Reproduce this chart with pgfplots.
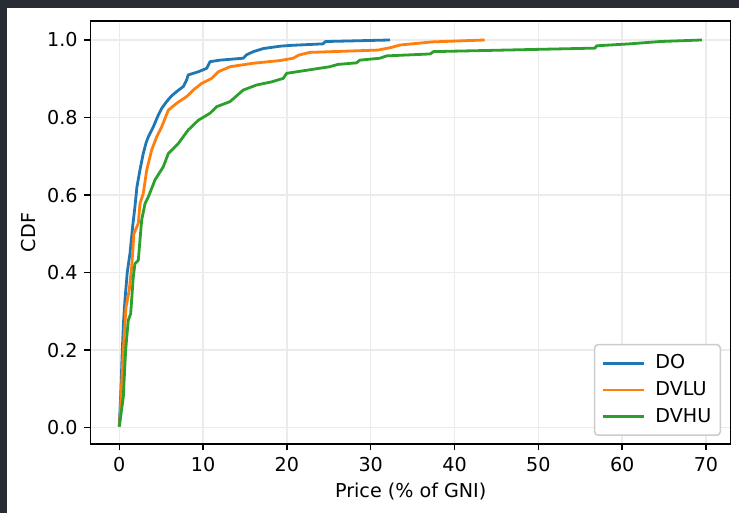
\documentclass[border=0pt]{standalone}
\usepackage{fontspec}
\setmainfont{DejaVu Sans}
\usepackage{pgfplots}
\pgfplotsset{compat=1.18}
\definecolor{bgdark}{RGB}{40,44,52}
\definecolor{tabblue}{HTML}{1F77B4}
\definecolor{taborange}{HTML}{FF7F0E}
\definecolor{tabgreen}{HTML}{2CA02C}
\definecolor{gridc}{HTML}{EBEBEB}
\definecolor{legedge}{HTML}{CCCCCC}

\pgfplotstableread{
x y
0.0 0.003
0.2 0.10
0.36 0.20
0.5 0.27
0.68 0.33
0.95 0.40
1.28 0.45
1.6 0.52
1.87 0.57
2.1 0.62
2.47 0.665
2.86 0.707
3.2 0.735
3.46 0.75
4.06 0.776
4.65 0.806
5.1 0.825
5.65 0.841
6.2 0.855
6.85 0.867
7.64 0.880
8.0 0.895
8.23 0.910
9.43 0.918
10.43 0.927
10.82 0.944
12.0 0.948
14.8 0.953
15.2 0.962
16.0 0.970
17.2 0.978
19.2 0.984
20.4 0.986
24.3 0.990
24.6 0.996
32.3 1.0
}\dataDO

\pgfplotstableread{
x y
0.0 0.004
0.08 0.019
0.3 0.12
0.48 0.2
0.8 0.311
1.19 0.355
1.48 0.415
1.75 0.501
2.27 0.527
2.47 0.578
2.86 0.604
3.27 0.664
3.86 0.716
4.46 0.75
5.06 0.776
5.5 0.80
5.85 0.819
6.85 0.837
8.04 0.854
8.83 0.871
9.83 0.888
11.02 0.901
11.81 0.918
13.21 0.931
15.99 0.940
19.2 0.947
20.76 0.953
21.4 0.961
22.75 0.968
30.9 0.974
32.5 0.981
33.5 0.987
37.3 0.995
43.6 1.0
}\dataDVLU

\pgfplotstableread{
x y
0.0 0.003
0.48 0.079
0.76 0.2
1.07 0.277
1.36 0.294
1.67 0.389
1.87 0.423
2.27 0.432
2.47 0.484
2.67 0.535
3.07 0.578
3.46 0.595
4.26 0.639
5.25 0.673
5.85 0.707
7.04 0.733
8.23 0.768
9.43 0.793
10.82 0.811
11.62 0.828
13.21 0.841
14.8 0.871
16.4 0.884
18.18 0.892
19.57 0.901
19.97 0.914
25.1 0.931
26.1 0.937
28.3 0.941
28.7 0.948
31.1 0.953
31.9 0.959
37.1 0.964
37.5 0.970
56.76 0.979
56.96 0.985
60.9 0.990
64.5 0.996
69.5 1.0
}\dataDVHU

\begin{document}
\fontsize{19.2pt}{23pt}\selectfont
\begin{tikzpicture}[x=1bp,y=1bp]
\fill[bgdark] (0,0) rectangle (739,513);
\fill[white] (7,0) rectangle (739,505);
\begin{axis}[
  at={(90.7bp,69bp)}, anchor=south west,
  width=640bp, height=423bp, scale only axis,
  xmin=-3.41, xmax=72.95, ymin=-0.042, ymax=1.049,
  xtick={0,10,20,30,40,50,60,70},
  ytick={0,0.2,0.4,0.6,0.8,1.0},
  yticklabel style={/pgf/number format/.cd, fixed, fixed zerofill, precision=1},
  /pgf/number format/assume math mode=true,
  grid=major,
  grid style={line width=1.5bp, color=gridc},
  axis line style={line width=1.5bp, black},
  tick style={line width=1.5bp, black},
  tick align=outside, tick pos=left,
  major tick length=6.5bp,
  xlabel={Price (\% of GNI)}, ylabel={CDF},
  xlabel style={yshift=2bp},
  ylabel style={yshift=-2bp},
  legend cell align=left,
  legend style={at={(1,0)}, anchor=south east, xshift=-9.7bp, yshift=8bp,
    draw=legedge, line width=1.5bp, rounded corners=3.5bp, fill=white,
    inner xsep=7bp, inner ysep=8bp, row sep=6bp},
  legend image code/.code={\draw[line width=2.8bp,#1] (0bp,0bp) -- (41bp,0bp); \path (49bp,0bp);},
  every axis plot/.append style={line width=2.8bp, line join=round},
]
\addplot[tabblue] table[x=x,y=y] {\dataDO};
\addlegendentry{DO}
\addplot[taborange] table[x=x,y=y] {\dataDVLU};
\addlegendentry{DVLU}
\addplot[tabgreen] table[x=x,y=y] {\dataDVHU};
\addlegendentry{DVHU}
\end{axis}
\end{tikzpicture}
\end{document}
